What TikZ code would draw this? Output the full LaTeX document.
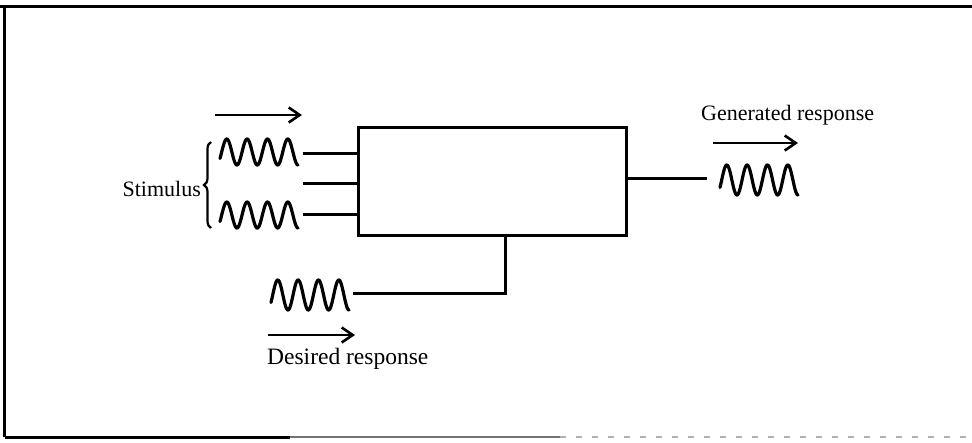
\documentclass[tikz,border=0pt]{standalone}
\usepackage{fontspec}
\setmainfont{Liberation Serif}
\usetikzlibrary{arrows.meta,decorations.pathreplacing}
\begin{document}
\begin{tikzpicture}[x=1pt,y=-1pt,
  thick line/.style={line width=3pt},
  sig/.style={line width=3.2pt,line join=round,line cap=round},
  dirarrow/.style={line width=2.6pt,-{Straight Barb[length=11pt,width=15pt,line width=2.6pt]}},
  lbl/.style={font=\fontsize{22}{26}\selectfont,inner sep=0pt},
  wave/.pic={\draw[sig] plot[domain=0:78,samples=160,smooth] (\x,{#1*cos(60+\x/78*1380)});},
  wave/.default=13]
\useasboundingbox (0,0) rectangle (972,442);
% frame
\draw[line width=3pt] (0,6) -- (972,6);
\draw[line width=3pt] (4.5,6) -- (4.5,437);
\draw[line width=3pt] (4.5,437) -- (290,437);
\draw[line width=2pt,black!55] (290,437) -- (560,437);
\draw[line width=1.5pt,black!30,dash pattern=on 6pt off 10pt] (560,437) -- (972,437);
% block
\node[draw,thick line,minimum width=268pt,minimum height=108pt,inner sep=0pt] (box) at (492,181) {};
% stimulus waves
\pic (w1) at (220,152) {wave=13};
\pic (w2) at (220,215) {wave=13};
\coordinate (in1) at (303,153);
\coordinate (in2) at (303,183);
\coordinate (in3) at (303,214);
\draw[thick line] (in1) -- (in1 -| box.west);
\draw[thick line] (in2) -- (in2 -| box.west);
\draw[thick line] (in3) -- (in3 -| box.west);
% brace and label
\coordinate (bb) at (211,228);
\coordinate (bt) at (211,142);
\draw[line width=2.2pt,decorate,decoration={brace,amplitude=7pt}] (bb) -- (bt);
\node[lbl,anchor=base east] (stim) at (201,196) {Stimulus};
% input arrow
\coordinate (a1s) at (215,115);
\coordinate (a1e) at (302,115);
\draw[dirarrow] (a1s) -- (a1e);
% output
\coordinate (out) at (707,178);
\draw[thick line] (out -| box.east) -- (out);
\pic (w3) at (720,180) {wave=15};
\coordinate (a2s) at (713,143);
\coordinate (a2e) at (798,143);
\draw[dirarrow] (a2s) -- (a2e);
\node[lbl,anchor=base west] (gen) at (701,120) {Generated response};
% desired response
\pic (w4) at (271,295) {wave=15};
\coordinate (des) at (353,293);
\coordinate (fb) at (505,293);
\draw[thick line] (des) -- (fb) -- (fb |- box.south);
\coordinate (a3s) at (268,335);
\coordinate (a3e) at (355,335);
\draw[dirarrow] (a3s) -- (a3e);
\node[lbl,anchor=base west,font=\fontsize{23.5}{27}\selectfont] (desl) at (267,364) {Desired response};
\end{tikzpicture}
\end{document}
